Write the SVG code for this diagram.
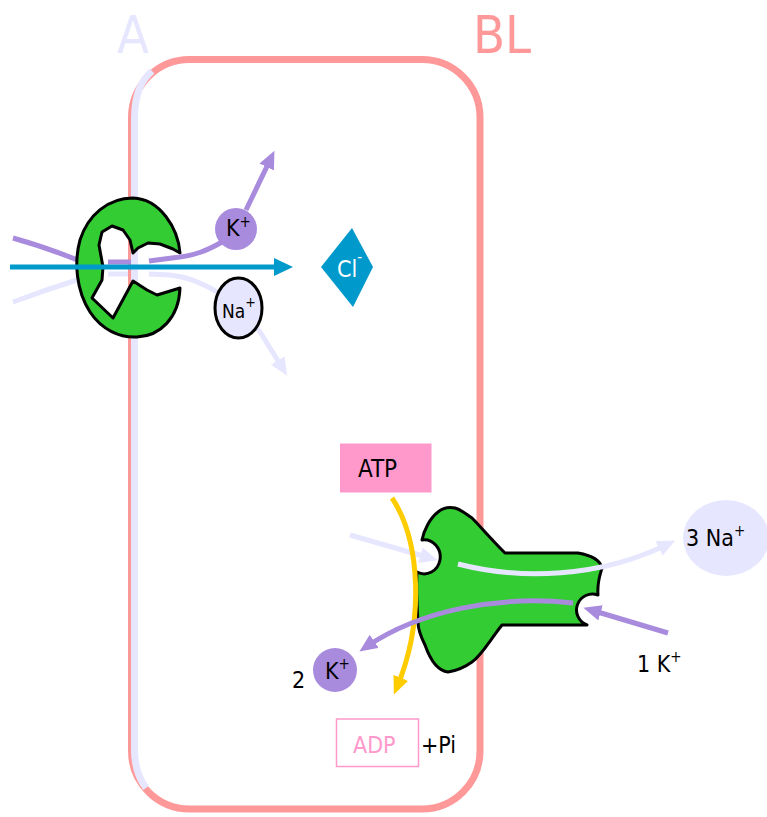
<svg xmlns="http://www.w3.org/2000/svg" width="767" height="817" viewBox="0 0 767 817">
  <style>
    text { font-family: "DejaVu Sans Condensed", "DejaVu Sans", sans-serif; font-stretch: condensed; }
    .lbl { font-size: 23px; fill: #000; }
    .sup { font-size: 15px; }
    .prot { fill: #33cc33; stroke: #000; stroke-width: 3; stroke-linejoin: round; }
    .k { fill: none; stroke: #a98bdd; stroke-width: 5; }
    .na { fill: none; stroke: #e6e6ff; stroke-width: 5; }
  </style>
  <defs>
    <marker id="ahK" markerUnits="userSpaceOnUse" markerWidth="20" markerHeight="18" viewBox="0 0 20 18" refX="10" refY="8" orient="auto">
      <path d="M0,0 L18,8 L0,16 z" fill="#a98bdd"/>
    </marker>
    <marker id="ahNa" markerUnits="userSpaceOnUse" markerWidth="20" markerHeight="18" viewBox="0 0 20 18" refX="10" refY="8" orient="auto">
      <path d="M0,0 L18,8 L0,16 z" fill="#e6e6ff"/>
    </marker>
    <marker id="ahCl" markerUnits="userSpaceOnUse" markerWidth="20" markerHeight="20" viewBox="0 0 20 20" refX="8" refY="9" orient="auto">
      <path d="M0,0 L19,9 L0,18 z" fill="#0099cc"/>
    </marker>
    <marker id="ahY" markerUnits="userSpaceOnUse" markerWidth="20" markerHeight="18" viewBox="0 0 20 18" refX="10" refY="8" orient="auto">
      <path d="M0,0 L18,8 L0,16 z" fill="#ffcc00"/>
    </marker>
  </defs>

  <!-- cell membrane: basolateral (pink) and apical (lavender) -->
  <g id="cell">
    <rect x="131.5" y="59.5" width="348.5" height="749.5" rx="58" ry="58" fill="none" stroke="#ff9999" stroke-width="7"/>
    <path d="M152,71 C140,82 134.5,95 134.5,120 L134.5,752 C135,770 140,780 146,788" fill="none" stroke="#e6e6ff" stroke-width="7"/>
    <text x="117" y="53" font-size="52" fill="#e6e6ff">A</text>
    <text x="473" y="53" font-size="52" fill="#ff9999">BL</text>
  </g>

  <!-- flux lines under the apical co-transporter -->
  <g id="connectors-under">
    <path class="k" d="M13,238 Q45,247 80,261"/>
    <path class="na" d="M13,302 Q45,290 80,279"/>
  </g>

  <!-- apical Na-K-2Cl co-transporter -->
  <g id="cotransporter">
    <path class="prot" d="M180,253 C178,228 160,199 133,198 C108,198 88,215 80,240 C74,262 76,290 90,312 C102,330 120,338 137,337 C160,336 179,318 180,288 L167,292 L157,295 L147,290 L133,281 L113,318 L92,298 L102,280 L103,267 L99,245 L102,232 L112,226 L123,230 L130,240 L133,253 L138,248 L148,243 L160,244 L173,249 Z"/>
  </g>

  <!-- ion paths -->
  <g id="connectors">
    <path class="k" d="M108,262 L131,262"/>
    <path class="na" d="M108,274 L128,274"/>
    <path class="k" d="M149,261 L172,258 C195,256 208,250 222,242"/>
    <path class="k" d="M246,210 L271,158" marker-end="url(#ahK)"/>
    <path class="na" d="M149,274 L170,275 C200,278 240,300 262,335 L283,369" marker-end="url(#ahNa)"/>
    <path d="M10,267 L282,267" stroke="#0099cc" stroke-width="5" fill="none" marker-end="url(#ahCl)"/>
  </g>

  <g id="k-apical">
    <circle cx="236" cy="229" r="21" fill="#a98bdd"/>
    <text class="lbl" x="226" y="236" font-size="22">K<tspan class="sup" dy="-9">+</tspan></text>
  </g>
  <g id="na-apical">
    <ellipse cx="238.5" cy="308" rx="23.5" ry="30" fill="#e6e6ff" stroke="#000" stroke-width="3"/>
    <text class="lbl" x="222" y="318" style="font-size:19px">Na<tspan class="sup" style="font-size:14px" dy="-11">+</tspan></text>
  </g>
  <g id="cl">
    <path d="M352,228 L373,267 L353,307 L321,267 Z" fill="#0099cc"/>
    <text x="337" y="277" font-size="23" fill="#fff">Cl<tspan font-size="15" dy="-15">-</tspan></text>
  </g>

  <!-- basolateral Na/K ATPase -->
  <g id="pump">
    <path class="prot" d="M422,540 C424,530 430,518 438,512 C444,507 450,507 455,508 C462,510 466,514 472,518 C480,526 490,538 505,553 L578,553 C590,555 600,560 602,568 C600,575 597,582 598,595 A15 15 0 1 0 587,625 L502,625 C490,640 482,655 472,662 C465,667 455,671 448,672 C440,671 432,665 425,645 C420,635 418,628 418,622 C417,605 416,590 417,572 A16 17 0 1 0 422,540 Z"/>
  </g>

  <g id="atp">
    <rect x="340" y="443.5" width="91.5" height="49" fill="#ff99cc"/>
    <text class="lbl" x="358" y="477" style="font-size:24px">ATP</text>
  </g>

  <g id="pump-flux">
    <path class="na" d="M350,535 L430,558" marker-end="url(#ahNa)"/>
    <path class="na" d="M458,564 C520,580 600,578 668,544" marker-end="url(#ahNa)"/>
    <path d="M392,498 C420,540 425,620 397,687" fill="none" stroke="#ffcc00" stroke-width="5" marker-end="url(#ahY)"/>
    <path class="k" d="M668,633 L591,610" marker-end="url(#ahK)"/>
    <path class="k" d="M573,603 C500,595 420,610 366,647" marker-end="url(#ahK)"/>
  </g>

  <g id="na-out">
    <ellipse cx="726" cy="538" rx="43" ry="38" fill="#e6e6ff"/>
    <text class="lbl" x="686" y="546">3 Na<tspan class="sup" dy="-10">+</tspan></text>
  </g>
  <g id="k-in-label">
    <text class="lbl" x="637" y="672">1 K<tspan class="sup" dy="-10">+</tspan></text>
  </g>
  <g id="k-out">
    <circle cx="335" cy="670" r="22" fill="#a98bdd"/>
    <text class="lbl" x="325" y="679">K<tspan class="sup" dy="-10">+</tspan></text>
    <text class="lbl" x="292" y="688">2</text>
  </g>

  <g id="adp">
    <rect x="336.5" y="719" width="82" height="47.5" fill="#fff" stroke="#ff99cc" stroke-width="1.5"/>
    <text x="353" y="753" font-size="23" fill="#ff99cc">ADP</text>
    <text class="lbl" x="421" y="753">+Pi</text>
  </g>
</svg>
